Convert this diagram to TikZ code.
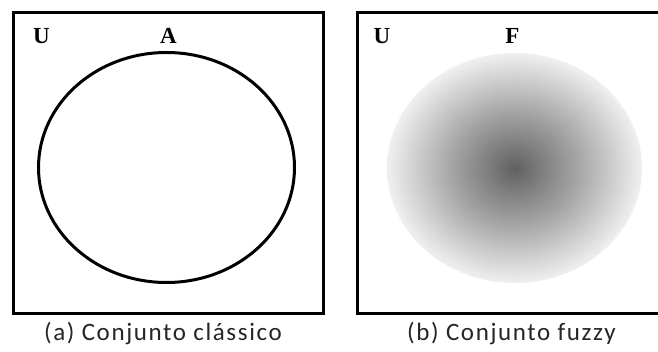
\documentclass[tikz,border=0pt]{standalone}
\usepackage{fontspec}
\setmainfont{Liberation Serif}
\newfontfamily\capfont[LetterSpace=6.5]{Carlito}
\pgfdeclareradialshading{fuzzyshade}{\pgfpoint{0bp}{0bp}}{color(0bp)=(black!62); color(12.5bp)=(black!35); color(25bp)=(black!6); color(50bp)=(black!6)}
\tikzset{
  frame/.style={draw=black, line width=3pt},
  setlabel/.style={font=\fontsize{23}{23}\selectfont\bfseries, inner sep=0pt, anchor=center},
  caption/.style={font=\capfont\fontsize{25}{25}\selectfont, inner sep=0pt, anchor=base, text=black!85}
}
\begin{document}
\begin{tikzpicture}[x=1pt,y=-1pt]
\useasboundingbox[fill=white] (0,0) rectangle (658,352);
% left panel
\draw[frame] (13.5,13) rectangle (323.5,314);
\draw[line width=3pt] (166.5,167.5) ellipse [x radius=128, y radius=115];
\node[setlabel] (u1) at (41.5,36.5) {U};
\node[setlabel] (a1) at (168.5,36) {A};
\node[caption] (c1) at (163,340) {(a) Conjunto clássico};
% right panel
\shade[shading=fuzzyshade] (514.5,168) ellipse [x radius=127.5, y radius=115];
\draw[frame] (357.5,13) rectangle (664,314);
\node[setlabel] (u2) at (382,36.5) {U};
\node[setlabel] (f2) at (512.5,36) {F};
\node[caption] (c2) at (511.5,340) {(b) Conjunto fuzzy};
\end{tikzpicture}
\end{document}
